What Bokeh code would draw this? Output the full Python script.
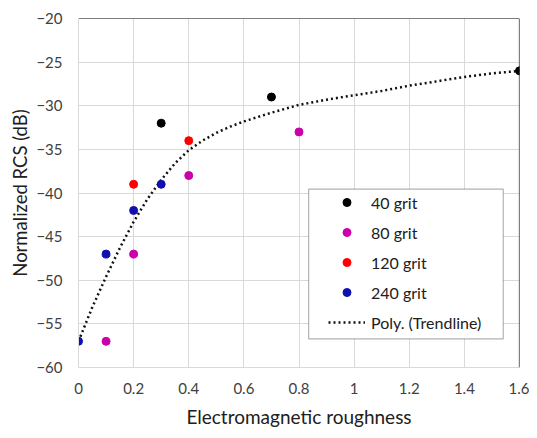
from bokeh.plotting import figure
from bokeh.models import Legend, LegendItem, BoxAnnotation, Range1d, FixedTicker, Span
from bokeh.embed import file_html
from bokeh.resources import INLINE

# ---- data ----
x40 = [0.3, 0.7, 1.6]
y40 = [-32, -29, -26]
x80 = [0.1, 0.2, 0.4, 0.8]
y80 = [-57, -47, -38, -33]
x120 = [0.2, 0.4]
y120 = [-39, -34]
x240 = [0.0, 0.1, 0.2, 0.3]
y240 = [-57, -47, -42, -39]
trend_x = [0.0, 0.05, 0.1, 0.15, 0.2, 0.25, 0.3, 0.35, 0.4, 0.45, 0.5, 0.55, 0.6, 0.65,
           0.7, 0.8, 0.9, 1.0, 1.1, 1.2, 1.3, 1.4, 1.5, 1.6]
trend_y = [-57.0, -53.1, -49.6, -46.3, -43.3, -40.7, -38.5, -36.6, -35.1, -34.0, -33.1,
           -32.4, -31.8, -31.3, -30.8, -29.9, -29.3, -28.8, -28.3, -27.7, -27.2, -26.7,
           -26.3, -26.0]
x_ticks = [0, 0.2, 0.4, 0.6, 0.8, 1.0, 1.2, 1.4, 1.6]
y_ticks = [-60, -55, -50, -45, -40, -35, -30, -25, -20]
x_tick_labels = {0: "0", 0.2: "0.2", 0.4: "0.4", 0.6: "0.6", 0.8: "0.8", 1.0: "1",
                 1.2: "1.2", 1.4: "1.4", 1.6: "1.6"}

FONT = "Lato"

p = figure(width=529, height=430, output_backend="svg", toolbar_location=None,
           x_range=Range1d(0, 1.6), y_range=Range1d(-60, -20),
           min_border_left=78, min_border_top=18, min_border_right=10, min_border_bottom=62)
p.outline_line_color = None
p.background_fill_color = "white"
p.border_fill_color = "white"

# grid
p.xgrid.ticker = FixedTicker(ticks=x_ticks)
p.ygrid.ticker = FixedTicker(ticks=y_ticks)
p.grid.grid_line_color = "#d9d9d9"
p.grid.grid_line_width = 1

# axes
p.xaxis.ticker = FixedTicker(ticks=x_ticks)
p.yaxis.ticker = FixedTicker(ticks=y_ticks)
p.xaxis.major_label_overrides = x_tick_labels
for ax in (p.xaxis[0], p.yaxis[0]):
    ax.axis_line_color = "#d9d9d9"
    ax.major_tick_line_color = None
    ax.minor_tick_line_color = None
    ax.major_tick_in = 0
    ax.major_tick_out = 0
    ax.major_label_text_font = FONT
    ax.major_label_text_font_size = "15px"
    ax.major_label_text_color = "#404040"
    ax.axis_label_text_font = FONT
    ax.axis_label_text_font_style = "normal"
    ax.axis_label_text_color = "#202020"
p.xaxis.axis_label_text_font_size = "19px"
p.yaxis.axis_label_text_font_size = "18.5px"
p.xaxis.axis_label = "Electromagnetic roughness"
p.yaxis.axis_label = "Normalized RCS (dB)"
p.xaxis.major_label_standoff = 15
p.yaxis.major_label_standoff = 16
p.xaxis.axis_label_standoff = 8
p.yaxis.axis_label_standoff = 2

# top and right black borders
p.add_layout(Span(location=-20, dimension="width", line_color="black", line_width=1.2))
p.add_layout(Span(location=1.6, dimension="height", line_color="black", line_width=1.2))

# trendline
tr = p.line(trend_x, trend_y, line_color="#111111", line_width=2.5, line_dash="2 3")

r40 = p.scatter(x40, y40, size=8, color="#000000")
r80 = p.scatter(x80, y80, size=8, color="#cc00aa")
r120 = p.scatter(x120, y120, size=8, color="#ff0000")
r240 = p.scatter(x240, y240, size=8, color="#1010b0")

# legend box
box = BoxAnnotation(left=0.835, right=1.541, top=-39.55, bottom=-56.72,
                    fill_color="white", fill_alpha=1.0, line_color="black", line_width=1.2)
p.add_layout(box)

legend = Legend(items=[
    LegendItem(label="40 grit", renderers=[r40]),
    LegendItem(label="80 grit", renderers=[r80]),
    LegendItem(label="120 grit", renderers=[r120]),
    LegendItem(label="240 grit", renderers=[r240]),
    LegendItem(label="Poly. (Trendline)", renderers=[tr]),
], location=(250, 35))
legend.padding = 0
legend.margin = 0
legend.spacing = 10
legend.glyph_width = 37
legend.glyph_height = 20
legend.label_height = 20
legend.label_standoff = 6
legend.label_text_font = FONT
legend.label_text_font_size = "16px"
legend.label_text_color = "#202020"
legend.border_line_alpha = 0
legend.background_fill_alpha = 0
p.add_layout(legend, "center")

open("out.html", "w").write(file_html(p, INLINE))
